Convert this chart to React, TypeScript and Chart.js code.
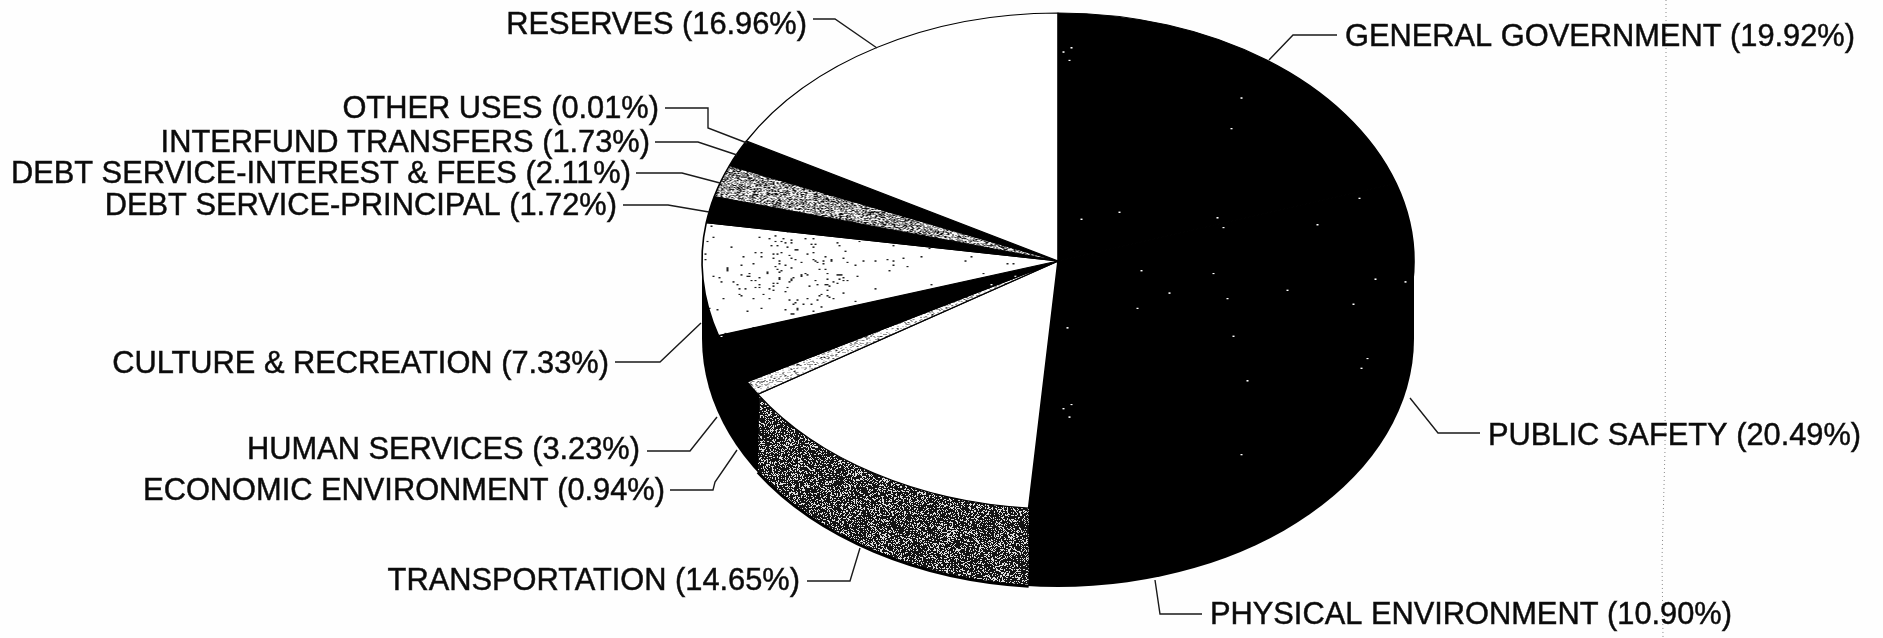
import React, { useEffect, useRef } from "react";
import { Chart, registerables } from "chart.js";

Chart.register(...registerables);

const categories = [
  "GENERAL GOVERNMENT",
  "PUBLIC SAFETY",
  "PHYSICAL ENVIRONMENT",
  "TRANSPORTATION",
  "ECONOMIC ENVIRONMENT",
  "HUMAN SERVICES",
  "CULTURE & RECREATION",
  "DEBT SERVICE-PRINCIPAL",
  "DEBT SERVICE-INTEREST & FEES",
  "INTERFUND TRANSFERS",
  "OTHER USES",
  "RESERVES",
];
const shares = [19.92, 20.49, 10.9, 14.65, 0.94, 3.23, 7.33, 1.72, 2.11, 1.73, 0.01, 16.96];

// Layout of the callouts (text anchor, then leader polyline), same order as categories
const labelAnchors: [number, number, CanvasTextAlign][] = [
  [1345, 38, "left"],
  [1488, 437, "left"],
  [1210, 616, "left"],
  [800, 582, "right"],
  [665, 492, "right"],
  [640, 451, "right"],
  [609, 365, "right"],
  [617, 207, "right"],
  [631, 175, "right"],
  [650, 144, "right"],
  [659, 110, "right"],
  [807, 26, "right"],
];
const leaders: [number, number][][] = [
  [[1337, 35], [1293, 35], [1269, 60]],
  [[1480, 433], [1438, 433], [1410, 398]],
  [[1202, 614], [1160, 614], [1155, 580]],
  [[807, 581], [850, 581], [860, 548]],
  [[670, 490], [713, 490], [715, 482], [737, 450]],
  [[647, 451], [690, 451], [717, 417]],
  [[615, 362], [660, 362], [701, 323]],
  [[623, 205], [668, 205], [709, 212]],
  [[636, 173], [682, 173], [720, 183]],
  [[655, 142], [698, 142], [737, 155]],
  [[665, 108], [708, 108], [708, 128], [747, 143]],
  [[813, 19], [835, 19], [877, 48]],
];
const scanLine: [number, number][] = [[1666, 0], [1666, 230], [1665, 450], [1662, 560], [1663, 638]];

const CX = 1058;
const CY = 261;
const RX = 356;
const RY = 248;
const DEPTH = 78;

// Deterministic speckle tile (texture only, no data)
function tile(
  size: number,
  density: number | ((x: number, y: number) => number),
  fg: string,
  bg: string,
  seed: number,
  dot = 1
) {
  const c = document.createElement("canvas");
  c.width = c.height = size;
  const g = c.getContext("2d")!;
  g.fillStyle = bg;
  g.fillRect(0, 0, size, size);
  g.fillStyle = fg;
  let s = seed >>> 0;
  const next = () => {
    s = (Math.imul(s, 1664525) + 1013904223) >>> 0;
    return (s >>> 8) / 16777216;
  };
  for (let y = 0; y < size; y += dot) {
    for (let x = 0; x < size; x += dot) {
      const d = typeof density === "number" ? density : density(x, y);
      if (next() < d) g.fillRect(x, y, dot, dot);
    }
  }
  return g.createPattern(c, "repeat")!;
}

export default function App() {
  const ref = useRef<HTMLCanvasElement>(null);
  useEffect(() => {
    const canvas = ref.current!;
    const ctx0 = canvas.getContext("2d")!;
    const blackSpeck = tile(512, 0.0007, "#ffffff", "#000000", 11, 2);
    const cultureFill = tile(
      1024,
      (x, y) => {
        const dx = (x - 675) / 50;
        const dy = (y - 332) / 45;
        return 0.006 + 0.075 * Math.exp(-(dx * dx + dy * dy));
      },
      "#222222",
      "#ffffff",
      7,
      2
    );
    const econFill = tile(64, 0.14, "#222222", "#ffffff", 5);
    const interestFill = tile(128, 0.42, "#111111", "#f8f8f8", 3, 1);
    const sidePattern = tile(128, 0.28, "#e0e0e0", "#141414", 9, 1);

    const fills: (string | CanvasPattern)[] = [
      blackSpeck, blackSpeck, blackSpeck, "#ffffff", econFill, blackSpeck,
      cultureFill, "#000000", interestFill, "#000000", "#ffffff", "#ffffff",
    ];

    const pie3d = {
      id: "pie3d",
      beforeDraw(chart: Chart) {
        const c = chart.ctx;
        c.save();
        c.fillStyle = "#fefefe";
        c.fillRect(0, 0, chart.width, chart.height);
        c.strokeStyle = "#8a8a8a";
        c.lineWidth = 1;
        c.setLineDash([1, 3]);
        c.beginPath();
        scanLine.forEach(([x, y], k) => (k ? c.lineTo(x, y) : c.moveTo(x, y)));
        c.stroke();
        c.restore();
      },
      beforeDatasetsDraw(chart: Chart) {
        const c = chart.ctx;
        const arcs: any[] = chart.getDatasetMeta(0).data as any[];
        // side wall: solid extrusion under the whole disc, then the patterned slice
        c.fillStyle = "#000000";
        c.fillRect(CX - RX, CY, RX * 2, DEPTH);
        c.beginPath();
        c.ellipse(CX, CY + DEPTH, RX, RY, 0, 0, Math.PI);
        c.closePath();
        c.fill();
        const t = arcs[3];
        const a = Math.max(t.startAngle, 0);
        const b = Math.min(t.endAngle, Math.PI);
        if (b > a) {
          c.beginPath();
          c.ellipse(CX, CY, RX - 2, RY - 2, 0, a, b);
          c.ellipse(CX, CY + DEPTH, RX, RY, 0, b, a, true);
          c.closePath();
          c.fillStyle = sidePattern;
          c.fill();
          c.beginPath();
          c.ellipse(CX, CY + DEPTH, RX, RY, 0, b, a, true);
          c.lineWidth = 3;
          c.strokeStyle = "#000000";
          c.stroke();
        }
        const first = arcs[0];
        c.save();
        c.translate(CX, CY);
        c.scale(1, RY / RX);
        c.translate(-first.x, -first.y);
      },
      afterDatasetsDraw(chart: Chart) {
        const c = chart.ctx;
        c.restore();
        // callouts
        c.save();
        c.fillStyle = "#0a0a0a";
        c.strokeStyle = "#1a1a1a";
        c.font = '30.8px "Liberation Sans"';
        c.textBaseline = "middle";
        categories.forEach((name, i) => {
          const [x, y, align] = labelAnchors[i];
          c.textAlign = align;
          const text = `${name} (${shares[i].toFixed(2)}%)`;
          c.lineWidth = 0.5;
          c.fillText(text, x, y);
          c.strokeText(text, x, y);
          c.lineWidth = 1.4;
          c.beginPath();
          leaders[i].forEach(([px, py], k) => (k ? c.lineTo(px, py) : c.moveTo(px, py)));
          c.stroke();
        });
        c.restore();
      },
    };

    const chart = new Chart(ctx0, {
      type: "pie",
      data: {
        labels: categories,
        datasets: [
          {
            data: shares,
            backgroundColor: fills as any,
            borderColor: "#000000",
            borderWidth: 1.6,
            clip: false as any,
          },
        ],
      },
      options: {
        animation: false,
        responsive: false,
        devicePixelRatio: 1,
        radius: RX,
        plugins: { legend: { display: false }, tooltip: { enabled: false } },
        events: [],
      } as any,
      plugins: [pie3d as any],
    });
    return () => chart.destroy();
  }, []);
  return (
    <canvas
      ref={ref}
      width={1883}
      height={638}
      style={{ position: "fixed", left: 0, top: 0, width: 1883, height: 638, display: "block" }}
    />
  );
}
